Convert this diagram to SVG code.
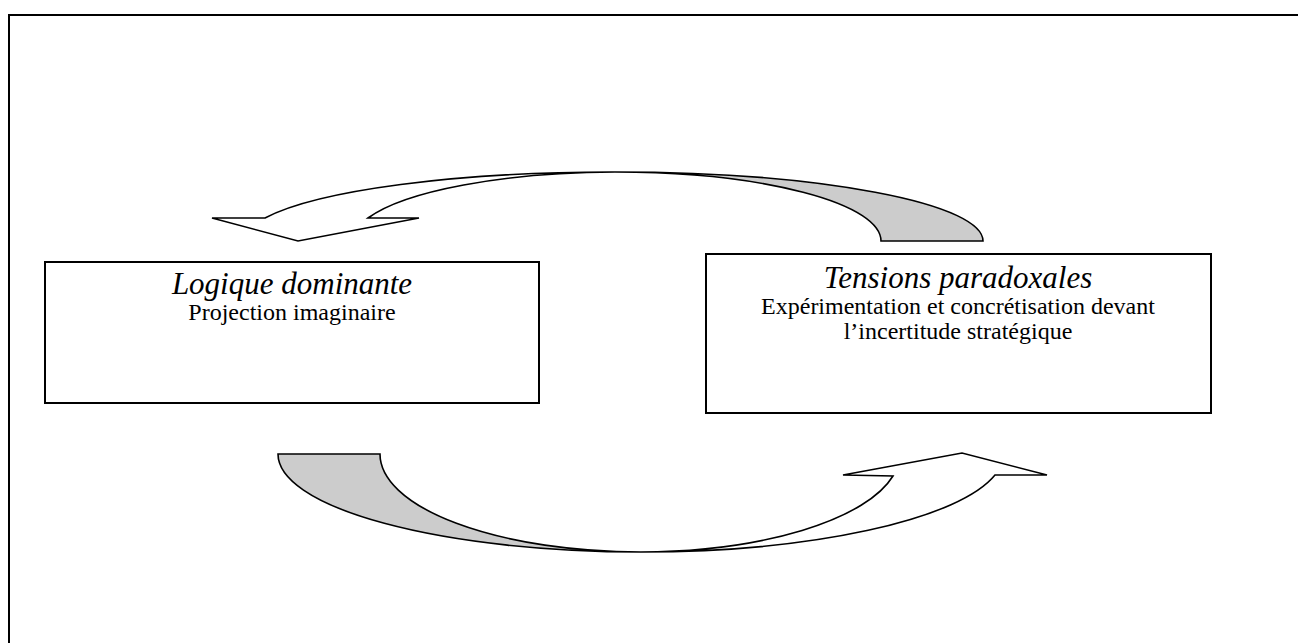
<svg xmlns="http://www.w3.org/2000/svg" width="1298" height="643" viewBox="0 0 1298 643">
<style>
.box{fill:#fff;stroke:#000;stroke-width:2}
.frame{fill:none;stroke:#000;stroke-width:2}
.front{fill:#fff;stroke:#000;stroke-width:1.6;stroke-linejoin:miter}
.back{fill:#ccc;stroke:#000;stroke-width:1.6}
.t{font-family:"Liberation Serif","Times New Roman",serif;font-style:italic;font-size:31px;fill:#000;text-anchor:middle}
.b{font-family:"Liberation Serif","Times New Roman",serif;font-size:24px;fill:#000;text-anchor:middle}
</style>
<rect width="1298" height="643" fill="#fff"/>
<path class="frame" d="M9,643 L9,15 L1298,15"/>
<g id="connectors">
  <g id="arrow-top">
    <path class="back" d="M615,172 A368 69 0 0 1 983,241 L881,241 A266 69 0 0 0 615,172 Z"/>
    <path class="front" d="M212,218 L265,218 A368 69 0 0 1 615,172 A266 69 0 0 0 368,218 L419,218 L298,241 Z"/>
  </g>
  <g id="arrow-bottom">
    <path class="back" d="M278,454 L380,454 A261 98 0 0 0 641,552 A363 98 0 0 1 278,454 Z"/>
    <path class="front" d="M641,552 A363 98 0 0 0 995,475 L1047,475 L962,453 L843,475 L893,476 A261 98 0 0 1 641,552 Z"/>
  </g>
</g>
<g id="node-logique">
  <rect class="box" x="45" y="262" width="494" height="141"/>
  <text class="t" x="292" y="294">Logique dominante</text>
  <text class="b" x="292" y="320">Projection imaginaire</text>
</g>
<g id="node-tensions">
  <rect class="box" x="706" y="254" width="505" height="159"/>
  <text class="t" x="958" y="288">Tensions paradoxales</text>
  <text class="b" x="958" y="314">Expérimentation et concrétisation devant</text>
  <text class="b" x="958" y="339">l’incertitude stratégique</text>
</g>
</svg>
